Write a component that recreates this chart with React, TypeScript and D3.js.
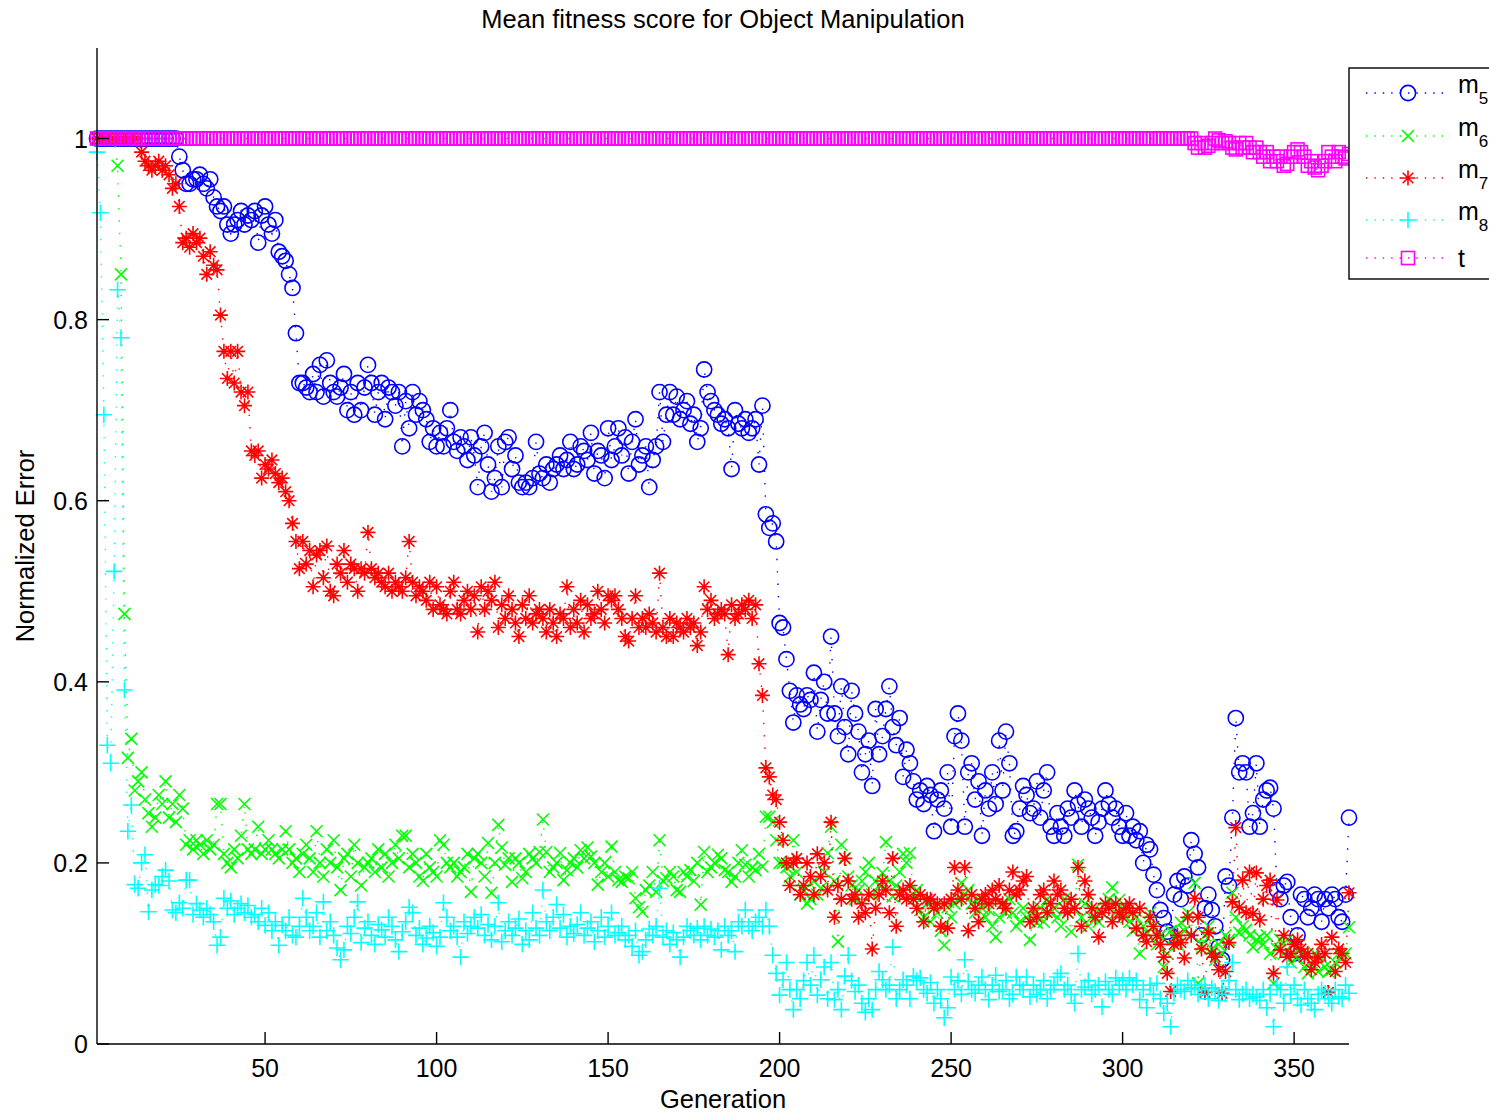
import React from 'react';
import * as d3 from 'd3';

const TITLE = 'Mean fitness score for Object Manipulation';
const X_LABEL = 'Generation';
const Y_LABEL = 'Normalized Error';
const X_TICKS = [50, 100, 150, 200, 250, 300, 350];
const Y_TICKS = [0, 0.2, 0.4, 0.6, 0.8, 1];
const Y_TICK_LABELS = ['0', '0.2', '0.4', '0.6', '0.8', '1'];

const m5 = [
1,1,1,1,1,1,1,1,1,1,
1,1,1,1,1,1,1,1,1,1,
1,1,1,1,0.98,0.965,0.95,0.95,0.955,0.955,
0.96,0.95,0.945,0.955,0.935,0.925,0.92,0.925,0.905,0.895,
0.905,0.91,0.92,0.905,0.915,0.91,0.92,0.885,0.915,0.925,
0.905,0.895,0.91,0.875,0.87,0.865,0.85,0.835,0.785,0.73,
0.73,0.725,0.72,0.74,0.72,0.75,0.715,0.755,0.73,0.72,
0.715,0.725,0.74,0.7,0.72,0.695,0.73,0.7,0.725,0.75,
0.73,0.695,0.72,0.73,0.69,0.725,0.72,0.705,0.72,0.66,
0.71,0.68,0.72,0.695,0.71,0.7,0.69,0.665,0.68,0.66,
0.675,0.66,0.68,0.7,0.665,0.655,0.67,0.66,0.645,0.67,
0.65,0.615,0.66,0.675,0.64,0.61,0.625,0.66,0.615,0.665,
0.67,0.635,0.65,0.62,0.615,0.62,0.615,0.625,0.665,0.63,
0.625,0.64,0.62,0.635,0.64,0.65,0.635,0.645,0.665,0.635,
0.64,0.66,0.655,0.645,0.675,0.63,0.655,0.65,0.625,0.68,
0.645,0.66,0.68,0.65,0.67,0.63,0.665,0.69,0.64,0.65,
0.66,0.615,0.645,0.66,0.72,0.665,0.695,0.72,0.695,0.715,
0.69,0.7,0.71,0.685,0.695,0.665,0.68,0.745,0.72,0.71,
0.7,0.695,0.685,0.69,0.68,0.635,0.7,0.685,0.68,0.69,
0.675,0.68,0.69,0.64,0.705,0.585,0.57,0.575,0.555,0.465,
0.46,0.425,0.39,0.355,0.385,0.375,0.37,0.385,0.38,0.41,
0.345,0.38,0.4,0.365,0.45,0.365,0.34,0.395,0.35,0.32,
0.39,0.365,0.345,0.3,0.32,0.335,0.285,0.37,0.32,0.34,
0.37,0.395,0.35,0.33,0.36,0.295,0.325,0.31,0.29,0.27,
0.28,0.265,0.285,0.275,0.235,0.27,0.28,0.26,0.3,0.24,
0.34,0.365,0.335,0.24,0.3,0.31,0.27,0.29,0.23,0.28,
0.26,0.3,0.265,0.335,0.28,0.345,0.31,0.23,0.235,0.26,
0.285,0.275,0.255,0.26,0.29,0.25,0.28,0.3,0.24,0.23,
0.255,0.24,0.23,0.26,0.25,0.28,0.265,0.24,0.27,0.26,
0.25,0.23,0.245,0.26,0.28,0.265,0.25,0.26,0.24,0.23,
0.255,0.23,0.24,0.225,0.235,0.2,0.22,0.215,0.187,0.17,
0.148,0.139,0.124,0.12,0.165,0.18,0.16,0.185,0.175,0.225,
0.21,0.195,0.12,0.15,0.165,0.148,0.13,0.107,0.093,0.185,
0.175,0.25,0.36,0.3,0.31,0.3,0.24,0.255,0.31,0.24,
0.27,0.28,0.283,0.26,0.17,0.16,0.175,0.179,0.14,0.1,
0.12,0.165,0.16,0.14,0.15,0.165,0.16,0.135,0.16,0.15,
0.165,0.16,0.14,0.135,0.165,0.25,
];

const m6 = [
1,1,1,1,1,1,0.97,0.85,0.475,0.316,
0.337,0.28,0.29,0.3,0.27,0.255,0.24,0.25,0.275,0.265,
0.29,0.25,0.265,0.245,0.275,0.26,0.22,0.225,0.215,0.225,
0.22,0.21,0.225,0.215,0.22,0.265,0.265,0.21,0.2,0.195,
0.215,0.205,0.23,0.265,0.215,0.21,0.215,0.24,0.21,0.215,
0.225,0.215,0.21,0.205,0.215,0.235,0.215,0.2,0.205,0.19,
0.21,0.22,0.205,0.19,0.235,0.2,0.185,0.215,0.2,0.225,
0.195,0.17,0.205,0.21,0.185,0.22,0.2,0.175,0.195,0.2,
0.205,0.19,0.215,0.195,0.21,0.185,0.2,0.22,0.205,0.23,
0.23,0.195,0.21,0.2,0.185,0.18,0.21,0.195,0.19,0.185,
0.225,0.22,0.2,0.195,0.2,0.185,0.19,0.195,0.21,0.168,
0.205,0.21,0.2,0.185,0.222,0.167,0.2,0.242,0.217,0.198,
0.205,0.179,0.205,0.2,0.183,0.19,0.21,0.205,0.2,0.212,
0.248,0.212,0.19,0.195,0.2,0.211,0.181,0.192,0.2,0.205,
0.195,0.214,0.205,0.217,0.207,0.2,0.176,0.19,0.2,0.185,
0.218,0.19,0.181,0.179,0.185,0.183,0.19,0.161,0.151,0.146,
0.17,0.175,0.19,0.168,0.225,0.18,0.183,0.19,0.185,0.17,
0.168,0.19,0.185,0.192,0.18,0.2,0.154,0.212,0.19,0.195,
0.2,0.209,0.205,0.192,0.19,0.179,0.185,0.2,0.214,0.198,
0.185,0.195,0.192,0.21,0.196,0.251,0.251,0.245,0.225,0.2,
0.2,0.195,0.185,0.225,0.19,0.165,0.17,0.155,0.16,0.18,
0.165,0.172,0.19,0.211,0.24,0.18,0.113,0.22,0.205,0.185,
0.175,0.16,0.17,0.18,0.19,0.2,0.165,0.18,0.175,0.189,
0.223,0.18,0.163,0.175,0.19,0.21,0.2,0.211,0.165,0.17,
0.148,0.14,0.155,0.135,0.15,0.145,0.125,0.109,0.151,0.14,
0.155,0.16,0.178,0.165,0.17,0.155,0.145,0.16,0.15,0.14,
0.148,0.13,0.118,0.14,0.155,0.145,0.16,0.145,0.13,0.135,
0.15,0.14,0.115,0.145,0.134,0.15,0.135,0.16,0.145,0.15,
0.14,0.13,0.16,0.145,0.124,0.15,0.198,0.14,0.155,0.13,
0.14,0.15,0.135,0.145,0.155,0.16,0.173,0.145,0.159,0.15,
0.14,0.135,0.125,0.14,0.1,0.13,0.123,0.145,0.129,0.11,
0.12,0.085,0.1,0.125,0.118,0.11,0.134,0.125,0.145,0.12,
0.178,0.067,0.11,0.12,0.13,0.105,0.093,0.11,0.1,0.12,
0.115,0.167,0.14,0.123,0.13,0.126,0.12,0.107,0.115,0.118,
0.11,0.12,0.1,0.067,0.105,0.115,0.1,0.115,0.09,0.1,
0.095,0.1,0.085,0.078,0.09,0.1,0.08,0.095,0.085,0.08,
0.082,0.09,0.1,0.095,0.1,0.129,
];

const m7 = [
1,1,1,1,1,1,1,1,1,1,
1,1,1,0.985,0.975,0.97,0.965,0.97,0.975,0.965,
0.97,0.96,0.945,0.95,0.925,0.885,0.89,0.88,0.895,0.885,
0.89,0.87,0.85,0.875,0.86,0.855,0.805,0.765,0.735,0.765,
0.73,0.765,0.72,0.705,0.72,0.655,0.65,0.655,0.625,0.64,
0.635,0.645,0.63,0.62,0.625,0.61,0.6,0.575,0.555,0.525,
0.555,0.53,0.545,0.505,0.54,0.545,0.515,0.55,0.5,0.495,
0.53,0.52,0.545,0.51,0.53,0.525,0.5,0.525,0.52,0.565,
0.525,0.515,0.52,0.51,0.505,0.52,0.5,0.51,0.505,0.5,
0.515,0.555,0.51,0.495,0.505,0.5,0.49,0.51,0.48,0.505,
0.485,0.48,0.475,0.5,0.51,0.48,0.475,0.49,0.5,0.48,
0.495,0.455,0.505,0.48,0.5,0.49,0.51,0.46,0.485,0.47,
0.495,0.48,0.465,0.45,0.485,0.47,0.495,0.465,0.475,0.48,
0.47,0.455,0.48,0.465,0.45,0.475,0.47,0.505,0.46,0.48,
0.465,0.49,0.455,0.485,0.47,0.475,0.5,0.48,0.465,0.495,
0.49,0.495,0.48,0.47,0.45,0.445,0.47,0.495,0.46,0.47,
0.46,0.475,0.465,0.455,0.52,0.46,0.45,0.47,0.45,0.465,
0.46,0.455,0.47,0.46,0.465,0.44,0.455,0.505,0.48,0.49,
0.47,0.475,0.48,0.475,0.43,0.485,0.47,0.475,0.485,0.48,
0.49,0.47,0.485,0.42,0.385,0.305,0.295,0.275,0.27,0.245,
0.225,0.2,0.175,0.2,0.205,0.165,0.175,0.2,0.185,0.165,
0.21,0.185,0.2,0.17,0.245,0.14,0.175,0.16,0.205,0.18,
0.16,0.165,0.14,0.155,0.145,0.165,0.105,0.15,0.165,0.18,
0.17,0.145,0.205,0.13,0.165,0.17,0.16,0.175,0.16,0.15,
0.165,0.135,0.16,0.16,0.15,0.155,0.13,0.155,0.128,0.16,
0.195,0.17,0.16,0.195,0.125,0.165,0.15,0.135,0.16,0.165,
0.155,0.17,0.16,0.175,0.155,0.15,0.17,0.19,0.165,0.17,
0.18,0.185,0.135,0.15,0.14,0.165,0.17,0.145,0.155,0.18,
0.165,0.17,0.15,0.145,0.16,0.15,0.195,0.13,0.18,0.165,
0.15,0.14,0.118,0.145,0.155,0.15,0.135,0.155,0.145,0.14,
0.15,0.155,0.145,0.128,0.15,0.12,0.113,0.14,0.13,0.12,
0.11,0.096,0.078,0.058,0.11,0.12,0.112,0.095,0.14,0.12,
0.161,0.14,0.105,0.057,0.123,0.1,0.096,0.082,0.056,0.08,
0.112,0.157,0.239,0.151,0.181,0.145,0.19,0.144,0.189,0.137,
0.16,0.175,0.181,0.078,0.159,0.104,0.12,0.096,0.1,0.11,
0.115,0.105,0.096,0.1,0.082,0.09,0.096,0.11,0.1,0.057,
0.118,0.08,0.105,0.1,0.09,0.167,
];

const m8 = [
0.985,0.918,0.695,0.33,0.31,0.522,0.833,0.78,0.391,0.235,
0.264,0.176,0.172,0.2,0.209,0.146,0.17,0.176,0.175,0.185,
0.192,0.18,0.148,0.145,0.156,0.15,0.181,0.181,0.143,0.155,
0.148,0.14,0.15,0.143,0.135,0.109,0.118,0.161,0.15,0.158,
0.143,0.15,0.155,0.145,0.153,0.14,0.143,0.135,0.15,0.131,
0.145,0.125,0.135,0.109,0.131,0.125,0.14,0.12,0.118,0.13,
0.161,0.14,0.125,0.13,0.145,0.118,0.157,0.125,0.135,0.12,
0.106,0.093,0.104,0.13,0.122,0.14,0.157,0.112,0.128,0.135,
0.12,0.11,0.132,0.126,0.118,0.14,0.13,0.115,0.102,0.124,
0.135,0.151,0.145,0.12,0.128,0.11,0.117,0.13,0.123,0.108,
0.118,0.156,0.14,0.125,0.13,0.118,0.096,0.135,0.122,0.13,
0.14,0.128,0.143,0.12,0.132,0.115,0.13,0.156,0.113,0.125,
0.135,0.12,0.128,0.138,0.11,0.125,0.115,0.145,0.128,0.12,
0.17,0.135,0.125,0.14,0.154,0.128,0.143,0.118,0.13,0.122,
0.132,0.145,0.12,0.128,0.135,0.113,0.125,0.14,0.118,0.13,
0.145,0.12,0.123,0.13,0.115,0.12,0.108,0.125,0.098,0.102,
0.115,0.127,0.12,0.13,0.172,0.118,0.125,0.11,0.123,0.115,
0.096,0.118,0.13,0.125,0.12,0.128,0.115,0.13,0.12,0.127,
0.118,0.125,0.104,0.13,0.12,0.125,0.102,0.135,0.13,0.148,
0.13,0.125,0.135,0.14,0.13,0.148,0.13,0.098,0.078,0.054,
0.071,0.09,0.06,0.038,0.06,0.05,0.07,0.09,0.065,0.098,
0.054,0.071,0.085,0.05,0.09,0.049,0.06,0.038,0.075,0.098,
0.07,0.058,0.065,0.045,0.035,0.05,0.038,0.06,0.08,0.071,
0.06,0.065,0.107,0.05,0.06,0.071,0.065,0.05,0.075,0.07,
0.073,0.06,0.056,0.068,0.045,0.06,0.05,0.029,0.04,0.074,
0.06,0.07,0.055,0.093,0.069,0.06,0.056,0.065,0.074,0.06,
0.049,0.065,0.076,0.058,0.06,0.07,0.05,0.055,0.074,0.065,
0.06,0.074,0.052,0.065,0.055,0.06,0.07,0.05,0.06,0.065,
0.074,0.078,0.06,0.065,0.055,0.045,0.1,0.06,0.063,0.07,
0.055,0.06,0.065,0.041,0.069,0.06,0.055,0.073,0.065,0.07,
0.06,0.073,0.065,0.07,0.049,0.06,0.04,0.065,0.055,0.067,
0.05,0.034,0.045,0.019,0.056,0.065,0.06,0.058,0.07,0.062,
0.065,0.055,0.06,0.065,0.05,0.062,0.058,0.048,0.06,0.055,
0.07,0.09,0.06,0.049,0.055,0.06,0.05,0.055,0.052,0.048,
0.06,0.04,0.055,0.019,0.065,0.06,0.045,0.085,0.055,0.065,
0.05,0.043,0.06,0.05,0.045,0.038,0.055,0.06,0.056,0.05,
0.045,0.06,0.052,0.05,0.065,0.056,
];

const tSeries = [
1,1,1,1,1,1,1,1,1,1,
1,1,1,1,1,1,1,1,1,1,
1,1,1,1,1,1,1,1,1,1,
1,1,1,1,1,1,1,1,1,1,
1,1,1,1,1,1,1,1,1,1,
1,1,1,1,1,1,1,1,1,1,
1,1,1,1,1,1,1,1,1,1,
1,1,1,1,1,1,1,1,1,1,
1,1,1,1,1,1,1,1,1,1,
1,1,1,1,1,1,1,1,1,1,
1,1,1,1,1,1,1,1,1,1,
1,1,1,1,1,1,1,1,1,1,
1,1,1,1,1,1,1,1,1,1,
1,1,1,1,1,1,1,1,1,1,
1,1,1,1,1,1,1,1,1,1,
1,1,1,1,1,1,1,1,1,1,
1,1,1,1,1,1,1,1,1,1,
1,1,1,1,1,1,1,1,1,1,
1,1,1,1,1,1,1,1,1,1,
1,1,1,1,1,1,1,1,1,1,
1,1,1,1,1,1,1,1,1,1,
1,1,1,1,1,1,1,1,1,1,
1,1,1,1,1,1,1,1,1,1,
1,1,1,1,1,1,1,1,1,1,
1,1,1,1,1,1,1,1,1,1,
1,1,1,1,1,1,1,1,1,1,
1,1,1,1,1,1,1,1,1,1,
1,1,1,1,1,1,1,1,1,1,
1,1,1,1,1,1,1,1,1,1,
1,1,1,1,1,1,1,1,1,1,
1,1,1,1,1,1,1,1,1,1,
1,1,1,1,1,1,1,1,1,1,
0.995,0.99,0.995,0.99,0.992,0.995,1,0.998,0.995,0.997,
0.995,0.99,0.988,0.995,0.99,0.995,0.99,0.985,0.99,0.985,
0.98,0.985,0.975,0.98,0.975,0.98,0.97,0.972,0.98,0.985,
0.988,0.985,0.98,0.97,0.975,0.968,0.965,0.97,0.975,0.985,
0.98,0.975,0.985,0.98,0.978,0.983,
];

const SERIES = [
  { key: 'm5', sub: '5', values: m5, color: '#0000ff', marker: 'o' },
  { key: 'm6', sub: '6', values: m6, color: '#00ff00', marker: 'x' },
  { key: 'm7', sub: '7', values: m7, color: '#ff0000', marker: '*' },
  { key: 'm8', sub: '8', values: m8, color: '#00ffff', marker: '+' },
  { key: 't', sub: '', values: tSeries, color: '#ff00ff', marker: 's' },
];

const W = 1489;
const H = 1114;
const PL = 97, PR = 1349, PT = 48, PB = 1044;
const FONT = '"Liberation Sans", Arial, Helvetica, sans-serif';

function markerEl(type: string, cx: number, cy: number, color: string, k: string | number) {
  const sw = 1.6;
  if (type === 'o') {
    return <circle key={k} cx={cx} cy={cy} r={7.6} fill="none" stroke={color} strokeWidth={sw} />;
  }
  if (type === 's') {
    const s = 6.5;
    return <rect key={k} x={cx - s} y={cy - s} width={2 * s} height={2 * s} fill="none" stroke={color} strokeWidth={sw} />;
  }
  let d = '';
  if (type === 'x') {
    const s = 6;
    d = `M${cx - s},${cy - s}L${cx + s},${cy + s}M${cx - s},${cy + s}L${cx + s},${cy - s}`;
  } else if (type === '+') {
    const s = 8.2;
    d = `M${cx - s},${cy}L${cx + s},${cy}M${cx},${cy - s}L${cx},${cy + s}`;
  } else if (type === '*') {
    const s = 7.5;
    const q = 5.3;
    d = `M${cx - s},${cy}L${cx + s},${cy}M${cx},${cy - s}L${cx},${cy + s}M${cx - q},${cy - q}L${cx + q},${cy + q}M${cx - q},${cy + q}L${cx + q},${cy - q}`;
  }
  return <path key={k} d={d} fill="none" stroke={color} strokeWidth={sw} />;
}

export default function App() {
  const x = d3.scaleLinear().domain([1, 366]).range([PL, PR]);
  const y = d3.scaleLinear().domain([0, 1.1]).range([PB, PT]);

  const line = d3
    .line<number>()
    .x((_, i) => x(i + 1))
    .y((v) => y(v));

  const legendX = 1349;
  const legendY = 68;
  const legendRows = [93, 136, 178, 220, 258];

  return (
    <svg
      width={W}
      height={H}
      viewBox={`0 0 ${W} ${H}`}
      style={{ position: 'absolute', left: 0, top: 0, background: '#fff', overflow: 'hidden' }}
      fontFamily={FONT}
    >
      <rect x={0} y={0} width={W} height={H} fill="#fff" />

      {SERIES.map((s) => (
        <g key={s.key}>
          <path
            d={line(s.values) || ''}
            fill="none"
            stroke={s.color}
            strokeWidth={1.4}
            strokeDasharray="1.4 11"
          />
          {s.values.map((v, i) => markerEl(s.marker, x(i + 1), y(v), s.color, i))}
        </g>
      ))}

      {/* axes */}
      <line x1={PL} y1={PT} x2={PL} y2={PB} stroke="#000" strokeWidth={1.4} />
      <line x1={PL} y1={PB} x2={PR} y2={PB} stroke="#000" strokeWidth={1.4} />
      {Y_TICKS.map((t, i) => (
        <g key={'yt' + i}>
          <line x1={PL} x2={PL + 12} y1={y(t)} y2={y(t)} stroke="#000" strokeWidth={1.4} />
          <text x={88} y={y(t)} dy="0.36em" textAnchor="end" fontSize={25} fill="#000">
            {Y_TICK_LABELS[i]}
          </text>
        </g>
      ))}
      {X_TICKS.map((t) => (
        <g key={'xt' + t}>
          <line x1={x(t)} x2={x(t)} y1={PB} y2={PB - 12} stroke="#000" strokeWidth={1.4} />
          <text x={x(t)} y={1077} textAnchor="middle" fontSize={25} fill="#000">
            {t}
          </text>
        </g>
      ))}

      <text x={(PL + PR) / 2} y={28} textAnchor="middle" fontSize={25.5} fill="#000">
        {TITLE}
      </text>
      <text x={(PL + PR) / 2} y={1108} textAnchor="middle" fontSize={25.5} fill="#000">
        {X_LABEL}
      </text>
      <text
        transform={`translate(34, ${(PT + PB) / 2}) rotate(-90)`}
        textAnchor="middle"
        fontSize={25.5}
        fill="#000"
      >
        {Y_LABEL}
      </text>

      {/* legend */}
      <rect x={legendX} y={legendY} width={200} height={211} fill="#fff" stroke="#000" strokeWidth={1.4} />
      {SERIES.map((s, i) => {
        const cy = legendRows[i];
        return (
          <g key={'lg' + s.key}>
            <line x1={1366} x2={1444} y1={cy} y2={cy} stroke={s.color} strokeWidth={1.4} strokeDasharray="1.4 7" />
            {markerEl(s.marker, 1408, cy, s.color, 'm')}
            {s.sub ? (
              <text x={1458} y={cy} fontSize={25} fill="#000">
                m
                <tspan fontSize={17} dy={11}>
                  {s.sub}
                </tspan>
              </text>
            ) : (
              <text x={1458} y={cy + 9} fontSize={25} fill="#000">
                {s.key}
              </text>
            )}
          </g>
        );
      })}
    </svg>
  );
}
